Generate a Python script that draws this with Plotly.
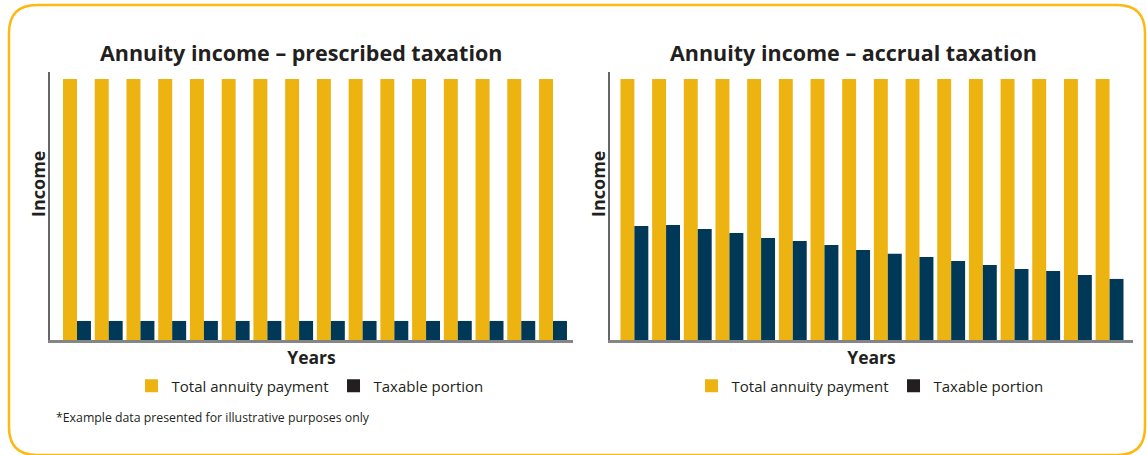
import plotly.graph_objects as go

# ---------------- data ----------------
years = list(range(1, 17))
total_payment = [100] * 16
taxable_prescribed = [7.3] * 16
taxable_accrual = [43.7, 44.1, 42.5, 41.0, 39.1, 37.9, 36.4, 34.5,
                   33.0, 31.8, 30.3, 28.7, 27.2, 26.4, 24.9, 23.4]

titles = ["Annuity income \u2013 prescribed taxation", "Annuity income \u2013 accrual taxation"]
series_names = ["Total annuity payment", "Taxable portion"]
x_title = "Years"
y_title = "Income"
footnote = "*Example data presented for illustrative purposes only"

# ---------------- styles ----------------
YELLOW = "#EDB311"
NAVY = "#003857"
LEGEND_DARK = "#231F20"
BORDER = "#FDB913"
TEXT = "#231F20"
FONT = "Open Sans"

W, H = 1147, 455


def px(x):
    return x / W


def py(y):
    return (H - y) / H


fig = go.Figure()

panels = [
    dict(xa="x", ya="y", tax=taxable_prescribed, legend="legend"),
    dict(xa="x2", ya="y2", tax=taxable_accrual, legend="legend2"),
]

for p in panels:
    fig.add_trace(go.Bar(x=years, y=total_payment, name=series_names[0],
                         marker=dict(color=YELLOW, line=dict(width=0)),
                         xaxis=p["xa"], yaxis=p["ya"], showlegend=False))
    fig.add_trace(go.Bar(x=years, y=p["tax"], name=series_names[1],
                         marker=dict(color=NAVY, line=dict(width=0)),
                         xaxis=p["xa"], yaxis=p["ya"], showlegend=False))
    # legend entries (swatch for taxable portion is dark charcoal in the original)
    fig.add_trace(go.Scatter(x=[None], y=[None], name=series_names[0], mode="markers",
                             marker=dict(color=YELLOW, symbol="square", size=13),
                             xaxis=p["xa"], yaxis=p["ya"], legend=p["legend"], showlegend=True))
    fig.add_trace(go.Scatter(x=[None], y=[None], name=series_names[1], mode="markers",
                             marker=dict(color=LEGEND_DARK, symbol="square", size=13),
                             xaxis=p["xa"], yaxis=p["ya"], legend=p["legend"], showlegend=True))

ydom = [py(340), py(72)]
ymax = 100 * (340 - 72) / (340 - 79)

common_x = dict(showgrid=False, zeroline=False, showticklabels=False, ticks="",
                showline=True, linecolor="#858585", linewidth=2.5, fixedrange=True,
                title=dict(text=f"<b>{x_title}</b>", font=dict(family=FONT, size=17.5, color=TEXT),
                           standoff=10))
common_y = dict(showgrid=False, zeroline=False, showticklabels=False, ticks="",
                showline=True, linecolor="#666666", linewidth=1.5, range=[0, ymax],
                domain=ydom, fixedrange=True)

legend_common = dict(orientation="h", xanchor="center", y=py(386), yanchor="middle",
                     font=dict(family=FONT, size=15, color=TEXT), itemwidth=30,
                     bgcolor="rgba(0,0,0,0)", traceorder="normal")

fig.update_layout(
    xaxis=dict(common_x, domain=[px(50), px(573)], range=[0.15, 16.63], anchor="y"),
    yaxis=dict(common_y, anchor="x"),
    xaxis2=dict(common_x, domain=[px(610), px(1133)], range=[0.23, 16.74], anchor="y2"),
    yaxis2=dict(common_y, anchor="x2"),
    barmode="group", bargap=0.12, bargroupgap=0,
    width=W, height=H,
    margin=dict(l=0, r=0, t=0, b=0),
    paper_bgcolor="white", plot_bgcolor="white",
    font=dict(family=FONT, color=TEXT),
    legend=dict(legend_common, x=px(310)),
    legend2=dict(legend_common, x=px(870)),
)

# titles
for t, cx in zip(titles, [301, 853]):
    fig.add_annotation(text=f"<b>{t}</b>", x=px(cx), y=py(52), xref="paper", yref="paper",
                       showarrow=False, font=dict(family=FONT, size=21.5, color=TEXT),
                       xanchor="center", yanchor="middle")
# y-axis titles (placed above the axis centre, as in the original)
for cx in [38, 598]:
    fig.add_annotation(text=f"<b>{y_title}</b>", x=px(cx), y=py(184), xref="paper", yref="paper",
                       showarrow=False, textangle=-90, font=dict(family=FONT, size=18, color=TEXT),
                       xanchor="center", yanchor="middle")
# footnote
fig.add_annotation(text=footnote, x=px(54), y=py(417), xref="paper", yref="paper",
                   showarrow=False, font=dict(family=FONT, size=12.3, color=TEXT),
                   xanchor="left", yanchor="middle")

# rounded yellow frame
x0, x1, y0, y1, r = 9, 1145, 5, 455, 28
path = (f"M {px(x0 + r)},{py(y0)} L {px(x1 - r)},{py(y0)} "
        f"Q {px(x1)},{py(y0)} {px(x1)},{py(y0 + r)} "
        f"L {px(x1)},{py(y1 - r)} Q {px(x1)},{py(y1)} {px(x1 - r)},{py(y1)} "
        f"L {px(x0 + r)},{py(y1)} Q {px(x0)},{py(y1)} {px(x0)},{py(y1 - r)} "
        f"L {px(x0)},{py(y0 + r)} Q {px(x0)},{py(y0)} {px(x0 + r)},{py(y0)} Z")
fig.add_shape(type="path", path=path, xref="paper", yref="paper",
              line=dict(color=BORDER, width=2.5), fillcolor="rgba(0,0,0,0)", layer="below")

fig.write_html("out.html")
